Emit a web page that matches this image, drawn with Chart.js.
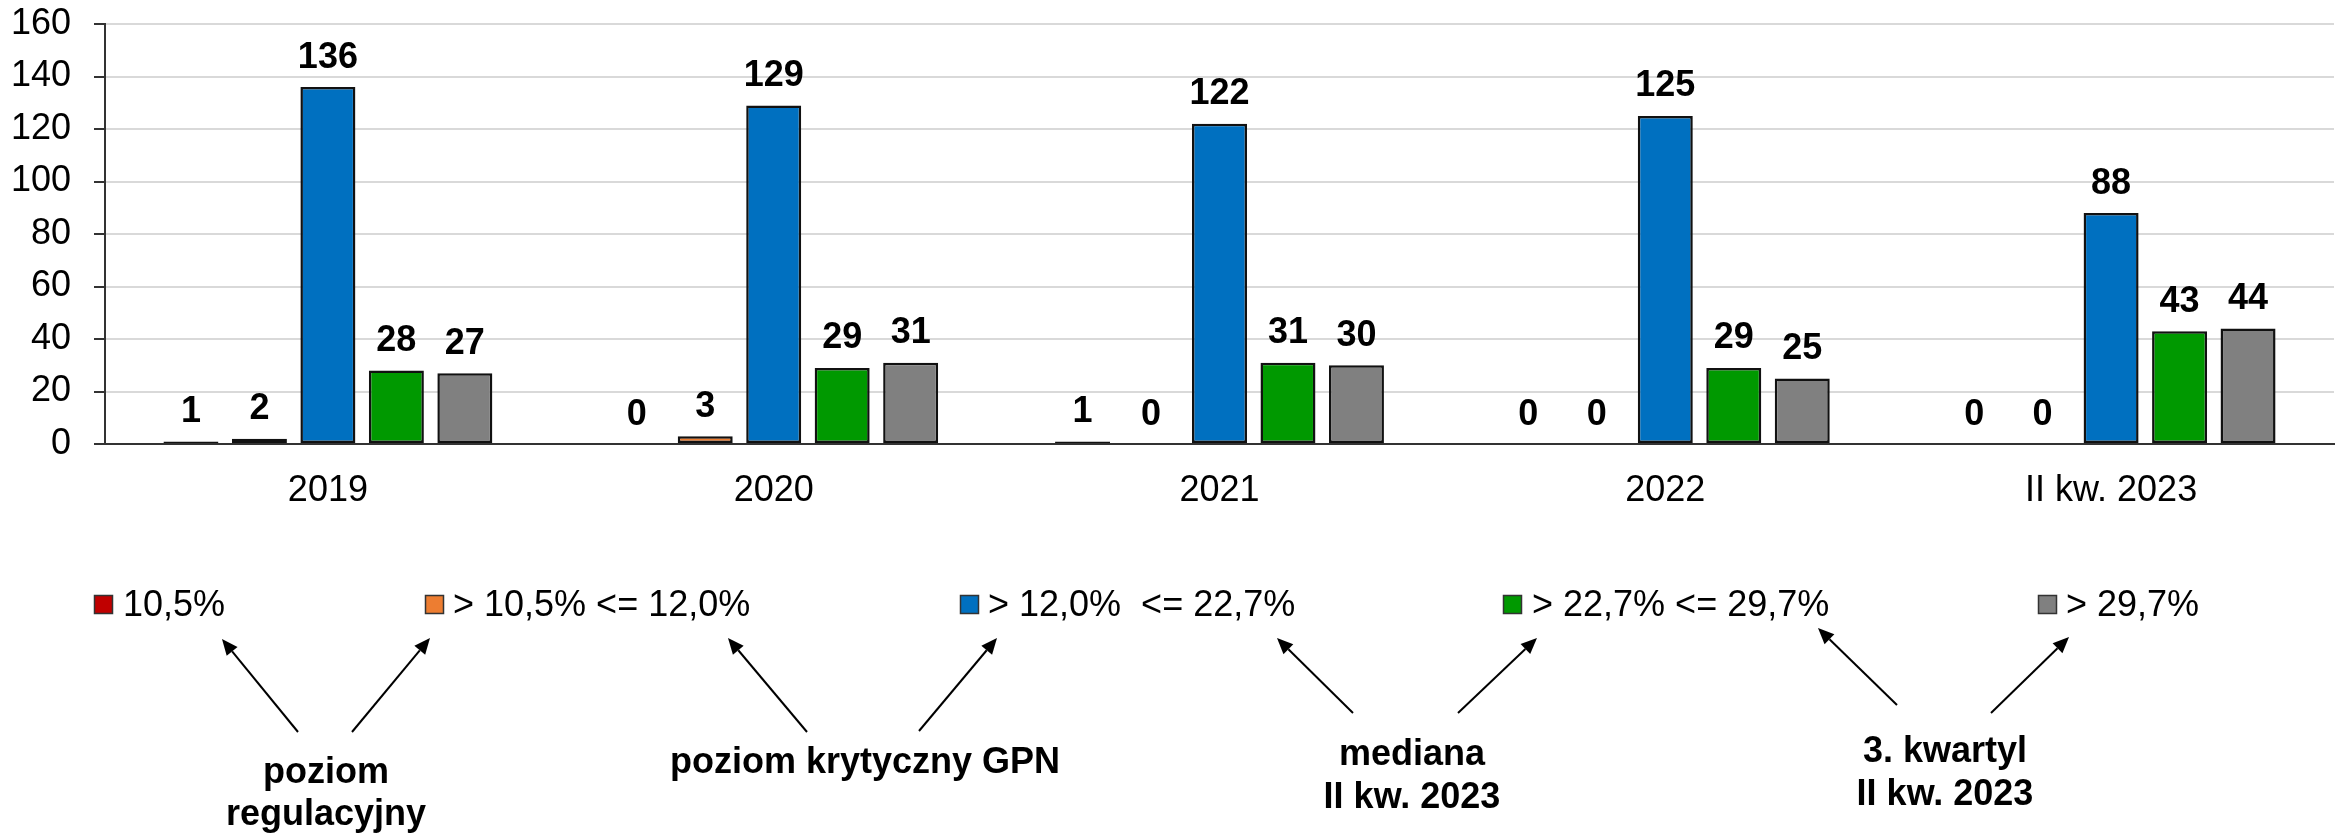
<!DOCTYPE html>
<html><head><meta charset="utf-8">
<script src="https://cdn.jsdelivr.net/npm/chart.js@4.4.1/dist/chart.umd.min.js"></script>
<style>html,body{margin:0;padding:0;background:#fff;}canvas{display:block}</style>
</head><body>
<canvas id="c" width="2346" height="839" style="width:2346px;height:839px"></canvas>
<script>
// ---- data ----
const categories = ['2019', '2020', '2021', '2022', 'II kw. 2023'];
const seriesLabels = ['10,5%', '> 10,5% <= 12,0%', '> 12,0%  <= 22,7%', '> 22,7% <= 29,7%', '> 29,7%'];
const redValues = [1, 0, 1, 0, 0];
const orangeValues = [2, 3, 0, 0, 0];
const blueValues = [136, 129, 122, 125, 88];
const greenValues = [28, 29, 31, 29, 43];
const grayValues = [27, 31, 30, 25, 44];
const yTickValues = [0, 20, 40, 60, 80, 100, 120, 140, 160];
const annotationTexts = [['poziom', 'regulacyjny'], ['poziom krytyczny GPN'], ['mediana', 'II kw. 2023'], ['3. kwartyl', 'II kw. 2023']];

// ---- styles / layout ----
const FONT = "'Liberation Sans', Arial, Helvetica, sans-serif";
const colors = ['#C00000', '#ED7D31', '#0070C0', '#009900', '#808080'];
const legendBoxX = [94, 425, 960, 1503, 2038];
const legendTextX = [123, 453, 988, 1532, 2066];
const annotationPos = [
  {x: 326, y: [783, 825]},
  {x: 865, y: [773]},
  {x: 1412, y: [765, 808]},
  {x: 1945, y: [762, 805]}
];
const arrows = [
  [298, 732, 222, 639], [352, 732, 430, 638],
  [807, 732, 728, 638], [919, 731, 997, 638],
  [1353, 713, 1277, 638], [1458, 713, 1537, 638],
  [1897, 705, 1818, 628], [1991, 713, 2069, 637]
];

const seriesValues = [redValues, orangeValues, blueValues, greenValues, grayValues];

const datasets = seriesValues.map((vals, i) => ({
  label: seriesLabels[i],
  data: vals,
  backgroundColor: colors[i],
  borderColor: '#111',
  borderWidth: 2.5,
  borderSkipped: false,
  categoryPercentage: 0.768,
  barPercentage: 0.803
}));

const valueLabels = {
  id: 'valueLabels',
  afterDatasetsDraw(chart) {
    const ctx = chart.ctx;
    ctx.save();
    ctx.font = 'bold 36px ' + FONT;
    ctx.fillStyle = '#000';
    ctx.textAlign = 'center';
    ctx.textBaseline = 'alphabetic';
    chart.data.datasets.forEach((ds, di) => {
      const meta = chart.getDatasetMeta(di);
      meta.data.forEach((bar, i) => {
        ctx.fillText(String(ds.data[i]), bar.x, bar.y - 19.5);
      });
    });
    ctx.restore();
  }
};

const legendAndNotes = {
  id: 'legendAndNotes',
  afterDraw(chart) {
    const ctx = chart.ctx;
    ctx.save();
    // legend
    ctx.font = '36px ' + FONT;
    ctx.textAlign = 'left';
    ctx.textBaseline = 'alphabetic';
    chart.data.datasets.forEach((ds, i) => {
      ctx.fillStyle = ds.backgroundColor;
      ctx.fillRect(legendBoxX[i], 595, 19, 19);
      ctx.strokeStyle = '#333';
      ctx.lineWidth = 1.5;
      ctx.strokeRect(legendBoxX[i] + 0.5, 595.5, 18, 18);
      ctx.fillStyle = '#000';
      ctx.fillText(ds.label, legendTextX[i], 616);
    });
    // arrows
    ctx.strokeStyle = '#000';
    ctx.fillStyle = '#000';
    ctx.lineWidth = 2;
    arrows.forEach(([x1, y1, x2, y2]) => {
      const ang = Math.atan2(y2 - y1, x2 - x1);
      const hl = 16, hw = 7;
      const bx = x2 - hl * Math.cos(ang), by = y2 - hl * Math.sin(ang);
      ctx.beginPath();
      ctx.moveTo(x1, y1);
      ctx.lineTo(bx, by);
      ctx.stroke();
      ctx.beginPath();
      ctx.moveTo(x2, y2);
      ctx.lineTo(bx + hw * Math.sin(ang), by - hw * Math.cos(ang));
      ctx.lineTo(bx - hw * Math.sin(ang), by + hw * Math.cos(ang));
      ctx.closePath();
      ctx.fill();
    });
    // annotation texts
    ctx.font = 'bold 36px ' + FONT;
    ctx.textAlign = 'center';
    annotationTexts.forEach((lines, i) => {
      lines.forEach((t, j) => ctx.fillText(t, annotationPos[i].x, annotationPos[i].y[j]));
    });
    ctx.restore();
  }
};

new Chart(document.getElementById('c'), {
  type: 'bar',
  data: { labels: categories, datasets },
  plugins: [valueLabels, legendAndNotes],
  options: {
    responsive: false,
    animation: false,
    devicePixelRatio: 1,
    layout: { padding: { top: 24, right: 12, left: 0, bottom: 0 } },
    plugins: { legend: { display: false }, tooltip: { enabled: false } },
    scales: {
      x: {
        grid: { display: false, drawTicks: false },
        border: { display: true, color: '#333', width: 2 },
        ticks: { font: { family: FONT, size: 36 }, color: '#000', padding: 25 },
        afterFit(s) { s.height = 395; s.paddingLeft = 0; s.paddingRight = 0; }
      },
      y: {
        min: 0, max: 160,
        afterBuildTicks(s) { s.ticks = yTickValues.map(v => ({ value: v })); },
        ticks: { font: { family: FONT, size: 36 }, color: '#000', padding: 23 },
        grid: {
          color: c => (c.tick && c.tick.value === 0) ? '#333' : '#d9d9d9',
          lineWidth: 2, tickLength: 11, drawTicks: true, tickColor: '#333'
        },
        border: { color: '#333', width: 2 },
        afterFit(s) { s.width = 105; s.paddingTop = 0; s.paddingBottom = 0; }
      }
    }
  }
});
</script>
</body></html>
